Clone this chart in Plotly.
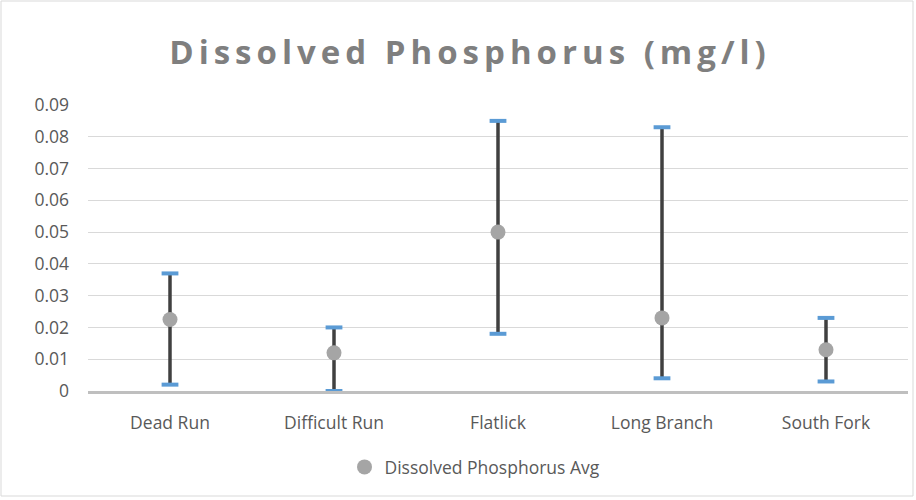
import plotly.graph_objects as go

# =========================================
# DATA
# =========================================
SITES = ["Dead Run", "Difficult Run", "Flatlick", "Long Branch", "South Fork"]
P_MAX = [0.037, 0.020, 0.085, 0.083, 0.023]
P_AVG = [0.0225, 0.012, 0.050, 0.023, 0.013]
P_MIN = [0.002, 0.000, 0.018, 0.004, 0.003]
Y_TICKS = [0, 0.01, 0.02, 0.03, 0.04, 0.05, 0.06, 0.07, 0.08, 0.09]
Y_LABELS = ["0", "0.01", "0.02", "0.03", "0.04", "0.05", "0.06", "0.07", "0.08", "0.09"]

# =========================================
# STYLE
# =========================================
COLOR_AVG = "#a5a5a5"
COLOR_STEM = "#404040"
COLOR_CAP = "#5b9bd5"
COLOR_TEXT = "#595959"
COLOR_TITLE = "#7f7f7f"
GRID_COLOR = "#d9d9d9"
FONT_FAMILY = "Open Sans"

W, H = 916, 500
ML, MR, MT, MB = 88, 8, 105, 109

fig = go.Figure()

# high-low line + avg marker
fig.add_trace(go.Scatter(
    x=SITES,
    y=P_AVG,
    mode="markers",
    name="Dissolved Phosphorus Avg",
    marker=dict(color=COLOR_AVG, size=15),
    error_y=dict(
        type="data",
        symmetric=False,
        array=[mx - av for mx, av in zip(P_MAX, P_AVG)],
        arrayminus=[av - mn for av, mn in zip(P_AVG, P_MIN)],
        color=COLOR_STEM,
        thickness=3.5,
        width=0
    )
))

# caps (max / min)
for vals in (P_MAX, P_MIN):
    fig.add_trace(go.Scatter(
        x=SITES,
        y=vals,
        mode="markers",
        showlegend=False,
        hoverinfo="skip",
        marker=dict(symbol="line-ew-open", size=12, color=COLOR_CAP,
                    line=dict(color=COLOR_CAP, width=4))
    ))

pw = W - ML - MR
ph = H - MT - MB
fig.add_shape(
    type="rect", xref="paper", yref="paper",
    x0=(1 - ML) / pw, x1=(913 - ML) / pw,
    y0=(H - MB - 496) / ph, y1=(H - MB - 1) / ph,
    line=dict(color=GRID_COLOR, width=1), layer="below"
)

fig.update_layout(
    width=W,
    height=H,
    paper_bgcolor="white",
    plot_bgcolor="white",
    font=dict(family=FONT_FAMILY, color=COLOR_TEXT, size=17.5),
    title=dict(
        text='<span style="letter-spacing:5px">Dissolved Phosphorus (mg/l)</span>',
        x=470 / W, xanchor="center", xref="container",
        y=1 - 52 / H, yanchor="middle",
        font=dict(size=33, color=COLOR_TITLE, family=FONT_FAMILY, weight="bold")
    ),
    margin=dict(l=ML, r=MR, t=MT, b=MB),
    showlegend=True,
    legend=dict(
        orientation="h",
        x=(475 - ML) / pw, xanchor="center",
        y=-(467 - (H - MB)) / ph, yanchor="middle",
        font=dict(size=17.5, color=COLOR_TEXT)
    )
)

fig.update_xaxes(
    range=[-0.5, len(SITES) - 0.5],
    showgrid=False,
    showline=True,
    linecolor="#bfbfbf",
    linewidth=3,
    ticks="",
    tickfont=dict(size=17.5, color=COLOR_TEXT),
    ticklabelstandoff=14
)

fig.update_yaxes(
    range=[0, 0.09],
    tickvals=Y_TICKS,
    ticktext=Y_LABELS,
    showgrid=True,
    gridcolor=GRID_COLOR,
    gridwidth=1,
    zeroline=False,
    showline=False,
    tickfont=dict(size=17.5, color=COLOR_TEXT),
    ticklabelstandoff=18
)

fig.write_html(
    "out.html",
    config={"displayModeBar": False},
    post_script="document.body.style.margin='0';"
)
